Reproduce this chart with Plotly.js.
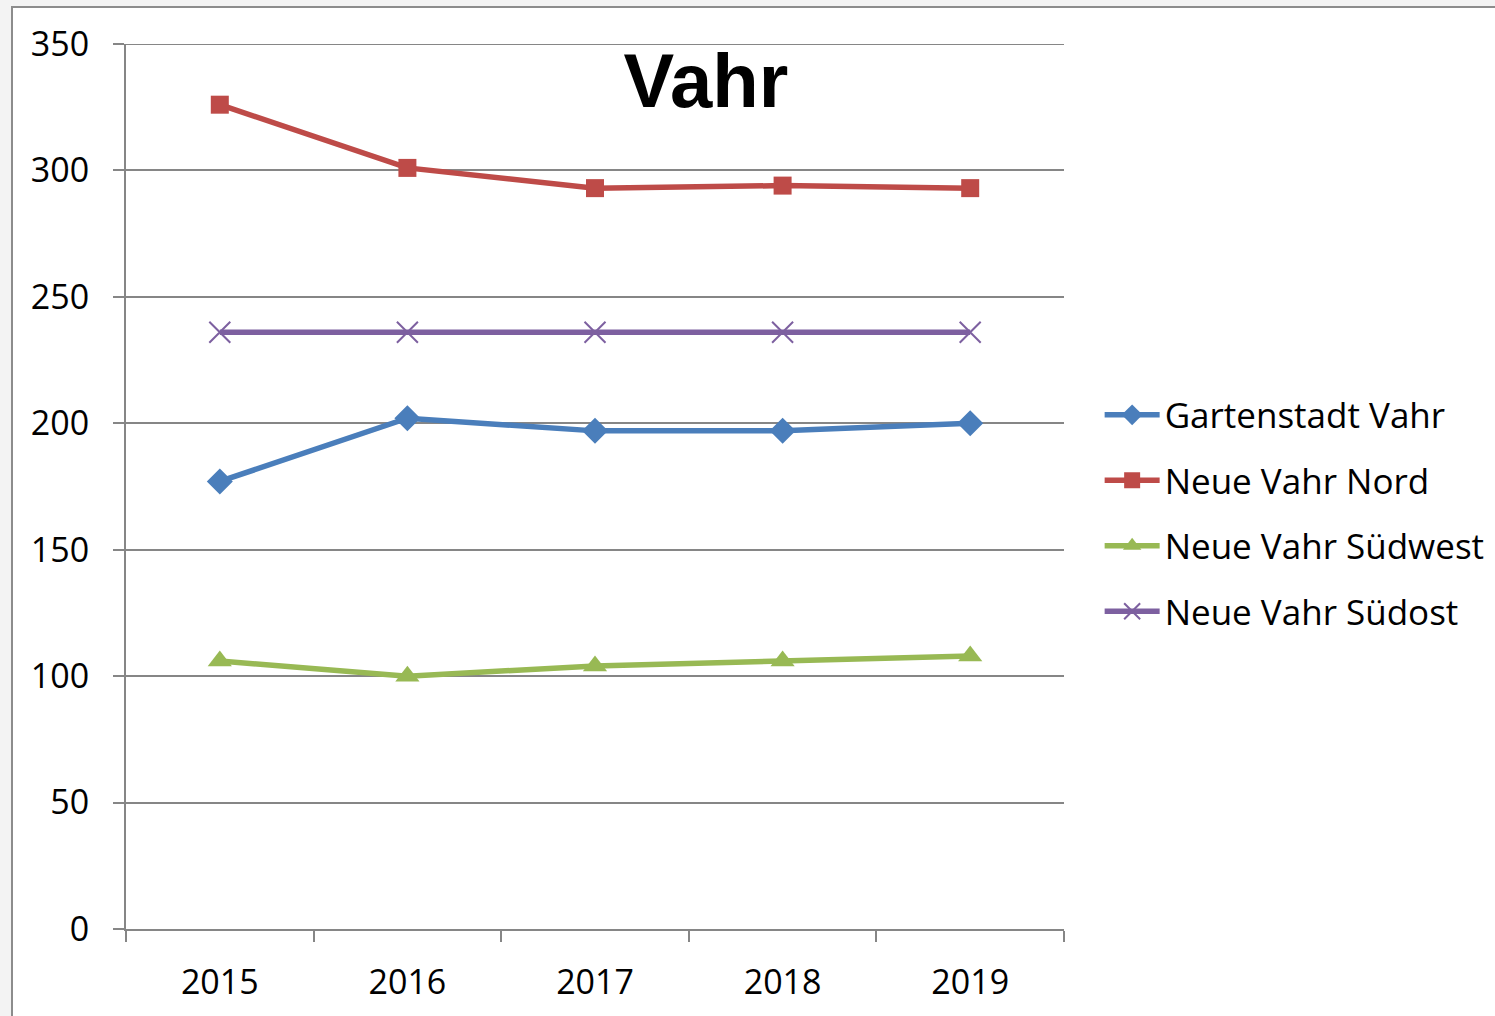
<!DOCTYPE html>
<html>
<head>
<meta charset="utf-8">
<script src="https://cdn.plot.ly/plotly-3.0.1.min.js"></script>
<style>
  html, body { margin: 0; padding: 0; background: #f3f3f3; overflow: hidden; }
  #chart {
    position: absolute; left: 11px; top: 6px;
    width: 1482px; height: 1008px;
    border-left: 2px solid #8c8c8c; border-top: 2px solid #8c8c8c;
    background: #fff;
  }
</style>
</head>
<body>
<div id="chart"></div>
<script>
// years on the x axis
var years = ["2015", "2016", "2017", "2018", "2019"];

// values per district
var gartenstadtVahr = [177, 202, 197, 197, 200];
var neueVahrNord = [326, 301, 293, 294, 293];
var neueVahrSuedwest = [106, 100, 104, 106, 108];
var neueVahrSuedost = [236, 236, 236, 236, 236];

var names = ["Gartenstadt Vahr", "Neue Vahr Nord", "Neue Vahr Südwest", "Neue Vahr Südost"];
var colors = ["#4a7ebb", "#be4b48", "#98b954", "#7d60a0"];
var gridGray = "#868686";
var yMax = 350;

function makeTrace(i, values, symbol, size, markerLine) {
  return {
    x: years,
    y: values,
    name: names[i],
    legendgroup: "g" + i,
    type: "scatter",
    mode: "lines+markers",
    line: { color: colors[i], width: 5.5 },
    marker: { symbol: symbol, size: size, color: colors[i], line: markerLine || { width: 0 } }
  };
}

var data = [
  makeTrace(0, gartenstadtVahr, "diamond", 20),
  makeTrace(1, neueVahrNord, "square", 18),
  makeTrace(2, neueVahrSuedwest, "triangle-up", 21),
  makeTrace(3, neueVahrSuedost, "x-thin-open", 21, { color: colors[3], width: 2 })
];

var layout = {
  width: 1482,
  height: 1008,
  margin: { l: 113, r: 431, t: 36, b: 87, autoexpand: false },
  paper_bgcolor: "#ffffff",
  plot_bgcolor: "#ffffff",
  font: { family: "Open Sans, sans-serif", color: "#000" },
  title: {
    text: "<b>Vahr</b>",
    font: { family: "Liberation Sans, Arial, sans-serif", size: 76, color: "#000" },
    x: 0.4676, xanchor: "center",
    y: 0.9285, yanchor: "middle"
  },
  xaxis: {
    type: "category",
    range: [-0.5, 4.5],
    tickson: "boundaries",
    ticks: "outside", ticklen: 11, tickwidth: 2, tickcolor: gridGray,
    showline: true, linecolor: gridGray, linewidth: 2,
    showgrid: false,
    tickfont: { size: 34 },
    ticklabelstandoff: 22
  },
  yaxis: {
    range: [0, yMax],
    dtick: 50,
    ticks: "outside", ticklen: 11, tickwidth: 2, tickcolor: gridGray,
    showline: true, linecolor: gridGray, linewidth: 2,
    gridcolor: gridGray, gridwidth: 2,
    zeroline: false,
    tickfont: { size: 34 },
    ticklabelstandoff: 17
  },
  // top gridline at the edge of the range (plotly drops it)
  shapes: [{
    type: "line", layer: "below",
    xref: "paper", x0: 0, x1: 1,
    yref: "y", y0: yMax, y1: yMax,
    line: { color: gridGray, width: 2 }
  }],
  showlegend: true,
  legend: {
    x: 1.038, xanchor: "left",
    y: 0.47, yanchor: "middle",
    font: { size: 35 },
    traceorder: "grouped",
    tracegroupgap: 17,
    itemwidth: 55
  }
};

Plotly.newPlot("chart", data, layout, { displayModeBar: false });
</script>
</body>
</html>
